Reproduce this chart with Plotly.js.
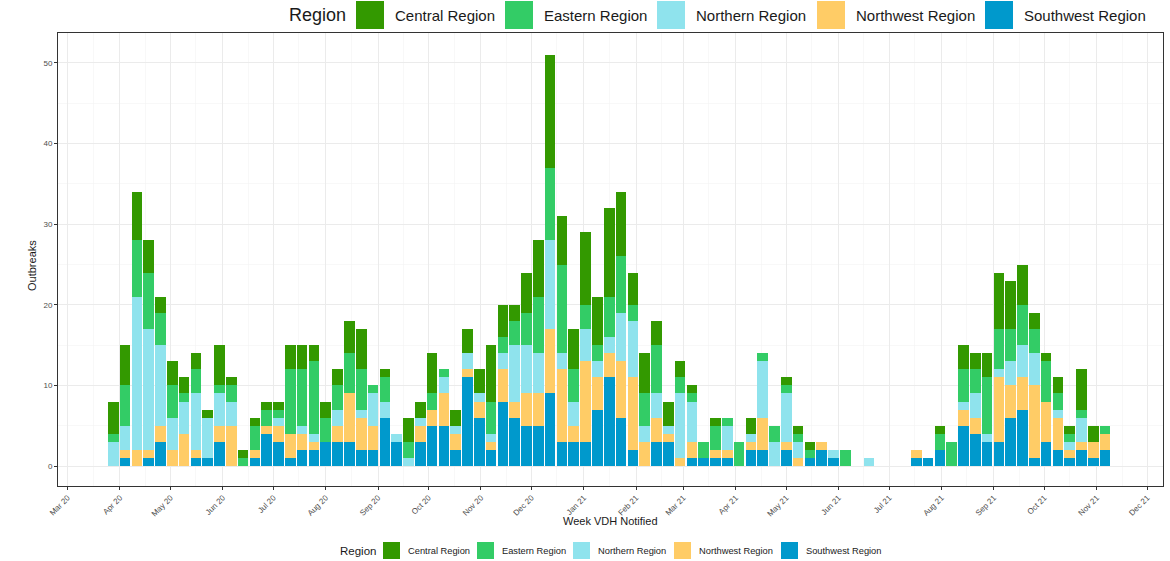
<!DOCTYPE html>
<html>
<head>
<meta charset="utf-8">
<script src="https://cdn.plot.ly/plotly-3.0.1.min.js"></script>
<style>
html,body{margin:0;padding:0;background:#ffffff;}
#chart{width:1170px;height:561px;}
</style>
</head>
<body>
<div id="chart"></div>
<script>
// Week (MMWR week ending Saturday) that VDH was notified
const weeks = [
 '2020-03-28','2020-04-04','2020-04-11','2020-04-18','2020-04-25','2020-05-02','2020-05-09','2020-05-16','2020-05-23','2020-05-30',
 '2020-06-06','2020-06-13','2020-06-20','2020-06-27','2020-07-04','2020-07-11','2020-07-18','2020-07-25','2020-08-01','2020-08-08',
 '2020-08-15','2020-08-22','2020-08-29','2020-09-05','2020-09-12','2020-09-19','2020-09-26','2020-10-03','2020-10-10','2020-10-17',
 '2020-10-24','2020-10-31','2020-11-07','2020-11-14','2020-11-21','2020-11-28','2020-12-05','2020-12-12','2020-12-19','2020-12-26',
 '2021-01-02','2021-01-09','2021-01-16','2021-01-23','2021-01-30','2021-02-06','2021-02-13','2021-02-20','2021-02-27','2021-03-06',
 '2021-03-13','2021-03-20','2021-03-27','2021-04-03','2021-04-10','2021-04-17','2021-04-24','2021-05-01','2021-05-08','2021-05-15',
 '2021-05-22','2021-05-29','2021-06-05','2021-06-12','2021-06-19','2021-06-26','2021-07-03','2021-07-10','2021-07-17','2021-07-24',
 '2021-07-31','2021-08-07','2021-08-14','2021-08-21','2021-08-28','2021-09-04','2021-09-11','2021-09-18','2021-09-25','2021-10-02',
 '2021-10-09','2021-10-16','2021-10-23','2021-10-30','2021-11-06'
];

const southwest = [
 0,1,0,1,3,0,0,1,1,3,
 0,0,1,4,3,1,2,2,3,3,
 3,2,2,6,3,0,3,5,5,2,
 11,6,2,8,6,5,5,9,3,3,
 3,7,11,6,2,0,3,3,0,1,
 1,1,1,0,2,2,0,2,0,1,
 2,1,0,0,0,0,0,0,1,1,
 2,0,5,4,3,3,6,7,1,3,
 2,1,2,1,2
];
const northwest = [
 0,1,2,1,2,2,4,1,0,2,
 5,0,1,1,2,3,2,1,0,2,
 6,4,3,0,0,0,2,2,4,2,
 1,2,1,4,2,4,4,8,9,2,
 10,4,3,7,9,3,3,1,1,2,
 0,1,1,0,1,4,0,1,1,0,
 1,0,0,0,0,0,0,0,1,0,
 0,0,2,2,0,8,4,4,9,5,
 4,1,1,2,2
];
const northern = [
 3,3,19,15,10,4,4,7,5,4,
 3,0,0,0,1,0,1,1,0,2,
 0,1,4,2,1,1,1,0,2,1,
 2,1,1,2,7,6,5,11,2,3,
 4,2,2,6,7,2,3,1,8,5,
 0,0,3,0,1,7,3,6,2,0,
 0,1,0,0,1,0,0,0,0,0,
 0,0,1,3,1,1,3,4,4,0,
 1,1,3,0,0
];
const eastern = [
 1,5,7,7,4,4,1,3,0,1,
 2,1,3,2,1,8,7,9,3,3,
 5,5,1,3,0,2,0,2,1,0,
 0,0,4,2,3,4,7,9,11,4,
 3,2,5,7,2,4,6,0,2,1,
 2,3,1,3,0,1,2,1,1,1,
 0,0,2,0,0,0,0,0,0,0,
 2,3,4,3,7,5,4,5,3,5,
 2,1,1,0,1
];
const central = [
 4,5,6,4,2,3,2,2,1,5,
 1,1,1,1,1,3,3,2,2,2,
 4,5,0,1,0,3,2,5,0,2,
 3,3,7,4,2,5,7,14,6,5,
 9,6,11,8,4,5,3,3,2,1,
 0,1,0,0,2,0,0,1,1,1,
 0,0,0,0,0,0,0,0,0,0,
 1,0,3,2,3,7,6,5,2,1,
 2,1,5,2,0
];

const regionNames = ['Central Region','Eastern Region','Northern Region','Northwest Region','Southwest Region'];
const regionColors = ['#339900','#33cc66','#8fe3ed','#ffcc66','#0099cc'];
const regionValues = [central, eastern, northern, northwest, southwest];

// ---- layout geometry (pixels) ----
const W = 1170, H = 561;
const M = {l: 58, r: 7, t: 33, b: 75};
const PW = W - M.l - M.r, PH = H - M.t - M.b;
const px2x = px => (px - M.l) / PW;
const py2y = py => (H - M.b - py) / PH;

const FONT = 'Liberation Sans, Arial, Helvetica, sans-serif';
const WEEK_MS = 7 * 24 * 3600 * 1000;

// stacking order: Southwest at bottom ... Central on top
const traces = [];
for (let i = regionNames.length - 1; i >= 0; i--) {
  traces.push({
    type: 'bar',
    name: regionNames[i],
    x: weeks,
    y: regionValues[i],
    width: 0.9 * WEEK_MS,
    marker: {color: regionColors[i], line: {width: 0}},
    showlegend: false,
    hovertemplate: '%{x|%d %b %Y}<br>' + regionNames[i] + ': %{y}<extra></extra>'
  });
}

const shapes = [];
const annotations = [];

// Top legend
const topKeyX = [356, 505, 657, 817, 985];
const topKeySize = 28, topKeyY = 1;
annotations.push({xref:'paper', yref:'paper', x: px2x(287), y: py2y(15), xanchor:'left', yanchor:'middle',
  text:'Region', showarrow:false, font:{family:FONT, size:18, color:'#1a1a1a'}});
regionNames.forEach((nm, i) => {
  shapes.push({type:'rect', xref:'paper', yref:'paper',
    x0: px2x(topKeyX[i]), x1: px2x(topKeyX[i] + topKeySize),
    y0: py2y(topKeyY + topKeySize), y1: py2y(topKeyY),
    fillcolor: regionColors[i], line:{width:0}, layer:'above'});
  annotations.push({xref:'paper', yref:'paper', x: px2x(topKeyX[i] + 37), y: py2y(15),
    xanchor:'left', yanchor:'middle', text: nm, showarrow:false,
    font:{family:FONT, size:15, color:'#1a1a1a'}});
});

// Bottom legend
const botKeyX = [383, 477, 573, 674, 781];
const botKeySize = 17, botKeyY = 542;
annotations.push({xref:'paper', yref:'paper', x: px2x(338), y: py2y(551), xanchor:'left', yanchor:'middle',
  text:'Region', showarrow:false, font:{family:FONT, size:11.5, color:'#1a1a1a'}});
regionNames.forEach((nm, i) => {
  shapes.push({type:'rect', xref:'paper', yref:'paper',
    x0: px2x(botKeyX[i]), x1: px2x(botKeyX[i] + botKeySize),
    y0: py2y(botKeyY + botKeySize), y1: py2y(botKeyY),
    fillcolor: regionColors[i], line:{width:0}});
  annotations.push({xref:'paper', yref:'paper', x: px2x(botKeyX[i] + 23), y: py2y(551),
    xanchor:'left', yanchor:'middle', text: nm, showarrow:false,
    font:{family:FONT, size:9.3, color:'#1a1a1a'}});
});

// Axis titles
annotations.push({xref:'paper', yref:'paper', x: 0.5, y: py2y(521), xanchor:'center', yanchor:'middle',
  text:'Week VDH Notified', showarrow:false, font:{family:FONT, size:11, color:'#1a1a1a'}});
annotations.push({xref:'paper', yref:'paper', x: px2x(32), y: py2y(266), xanchor:'center', yanchor:'middle',
  text:'Outbreaks', textangle:-90, showarrow:false, font:{family:FONT, size:11, color:'#1a1a1a'}});

const layout = {
  width: W, height: H,
  margin: M,
  paper_bgcolor: '#ffffff',
  plot_bgcolor: '#ffffff',
  barmode: 'stack',
  bargap: 0,
  showlegend: false,
  font: {family: FONT},
  xaxis: {
    type: 'date',
    range: ['2020-02-24 06:00', '2021-12-10 07:00'],
    tick0: '2020-03-01', dtick: 'M1', tickformat: '%b %y',
    tickangle: -45,
    tickfont: {family: FONT, size: 8, color: '#4d4d4d'},
    ticks: 'outside', ticklen: 3, tickcolor: '#333333', tickwidth: 1,
    showgrid: true, gridcolor: '#ebebeb', gridwidth: 1,
    minor: {tick0: '2020-02-16', dtick: 'M1', showgrid: true, gridcolor: '#f3f3f3', gridwidth: 0.6, ticks: ''},
    showline: true, linecolor: '#333333', linewidth: 1, mirror: true,
    zeroline: false, fixedrange: true
  },
  yaxis: {
    range: [-2.48, 53.72],
    tick0: 0, dtick: 10,
    tickfont: {family: FONT, size: 8, color: '#4d4d4d'},
    ticks: 'outside', ticklen: 3, tickcolor: '#333333', tickwidth: 1,
    showgrid: true, gridcolor: '#ebebeb', gridwidth: 1,
    minor: {tick0: 5, dtick: 10, showgrid: true, gridcolor: '#f3f3f3', gridwidth: 0.6, ticks: ''},
    showline: true, linecolor: '#333333', linewidth: 1, mirror: true,
    zeroline: false, fixedrange: true
  },
  shapes: shapes,
  annotations: annotations
};

Plotly.newPlot('chart', traces, layout, {staticPlot: true, displayModeBar: false});
</script>
</body>
</html>
